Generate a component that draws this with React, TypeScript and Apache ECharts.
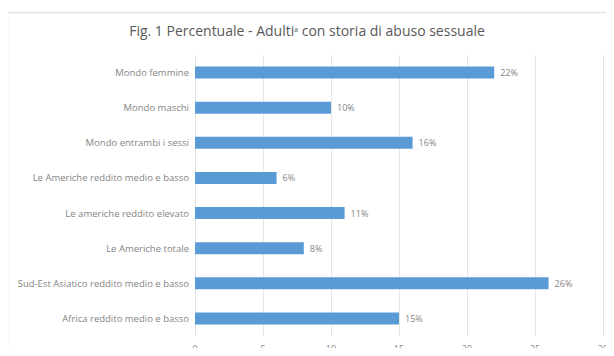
import React, { useEffect, useRef } from "react";
import * as echarts from "echarts";

const categories = [
  "Mondo femmine",
  "Mondo maschi",
  "Mondo entrambi i sessi",
  "Le Americhe reddito medio e basso",
  "Le americhe reddito elevato",
  "Le Americhe totale",
  "Sud-Est Asiatico reddito medio e basso",
  "Africa reddito medio e basso",
];
const values = [22, 10, 16, 6, 11, 8, 26, 15];
const titleText = "Fig. 1 Percentuale - Adultiᵃ con storia di abuso sessuale";

export default function App() {
  const ref = useRef<HTMLDivElement>(null);
  useEffect(() => {
    if (!ref.current) return;
    const chart = echarts.init(ref.current, null, { renderer: "svg" });
    chart.setOption({
      animation: false,
      backgroundColor: "#ffffff",
      title: {
        text: titleText,
        left: "center",
        top: 18,
        textStyle: {
          fontFamily: "Open Sans",
          fontSize: 14,
          fontWeight: "normal",
          color: "#595959",
        },
      },
      graphic: [
        {
          type: "rect",
          left: 5,
          top: 10,
          shape: { width: 640, height: 400 },
          style: { fill: "none", stroke: "#e3e3e3", lineWidth: 1.5 },
          silent: true,
        },
      ],
      grid: { left: 195, right: 11, top: 55, bottom: 20, containLabel: false },
      xAxis: {
        type: "value",
        min: 0,
        max: 30,
        interval: 5,
        axisLine: { show: false },
        axisTick: { show: false },
        axisLabel: {
          fontFamily: "Open Sans",
          fontSize: 9,
          color: "#8a8a8a",
          margin: 8,
        },
        splitLine: { show: true, lineStyle: { color: "#e6e6e6", width: 1 } },
      },
      yAxis: {
        type: "category",
        data: categories,
        inverse: true,
        axisLine: { show: false },
        axisTick: { show: false },
        axisLabel: {
          fontFamily: "Open Sans",
          fontSize: 9.5,
          color: "#858585",
          margin: 6,
        },
      },
      series: [
        {
          type: "bar",
          data: values,
          barWidth: 12,
          itemStyle: { color: "#5b9bd5" },
          label: {
            show: true,
            position: "right",
            distance: 6,
            formatter: "{c}%",
            fontFamily: "Open Sans",
            fontSize: 9,
            color: "#858585",
          },
        },
      ],
    });
    return () => chart.dispose();
  }, []);
  return <div ref={ref} style={{ width: 614, height: 356, margin: -8 }} />;
}
